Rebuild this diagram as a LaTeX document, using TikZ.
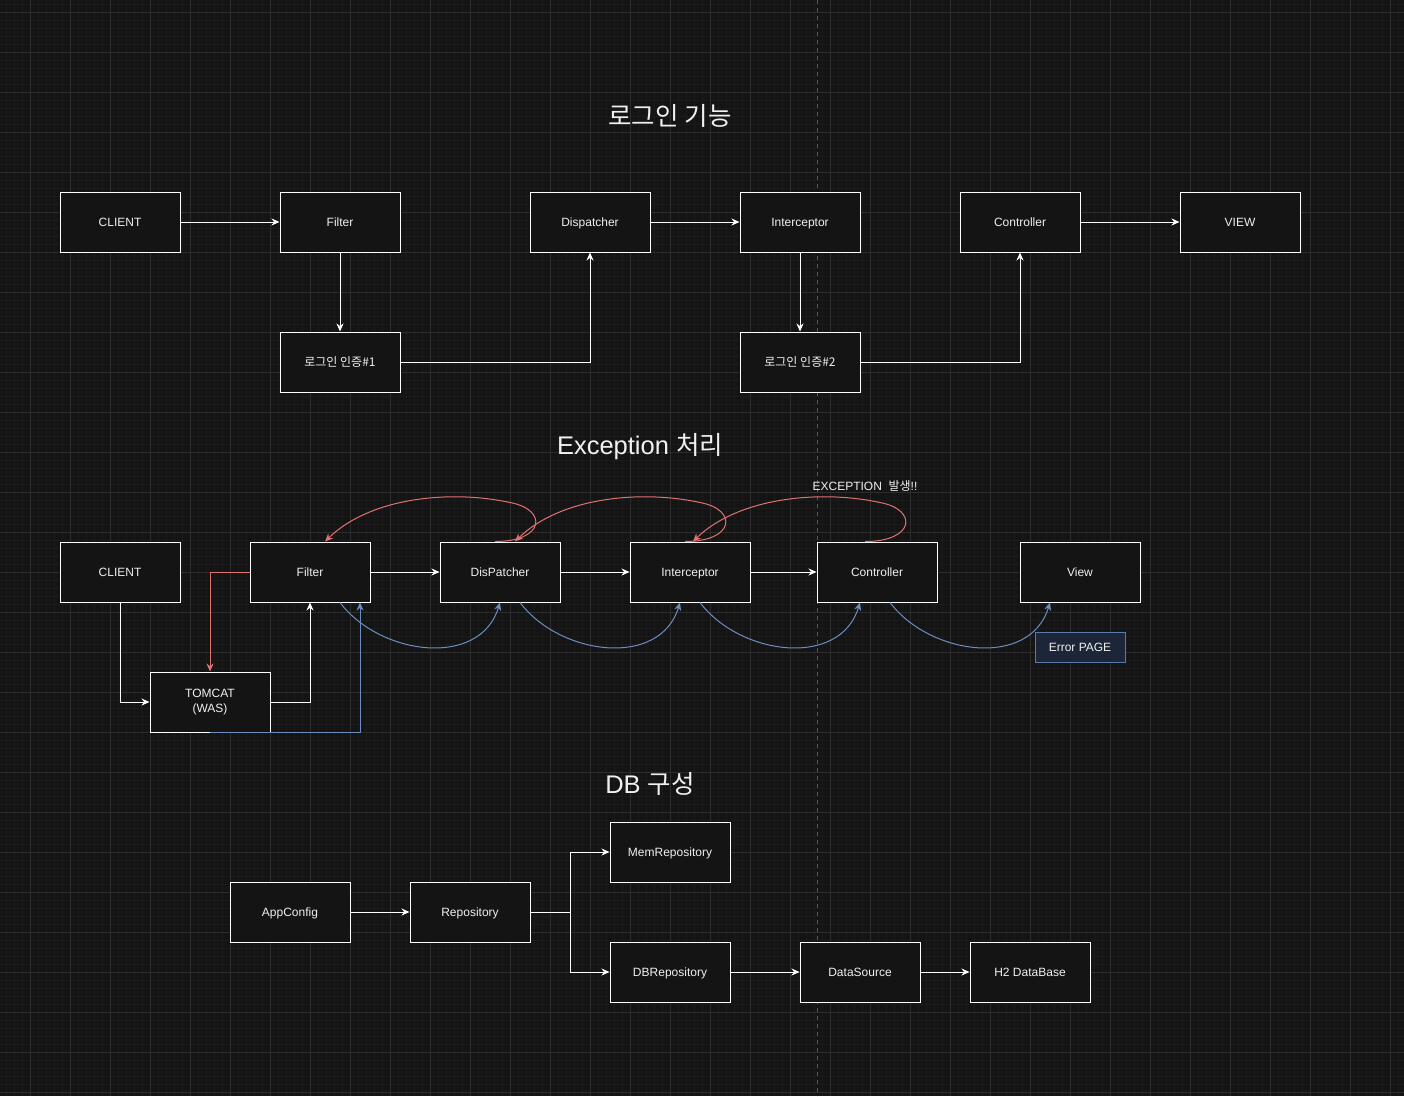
\documentclass[tikz,border=0pt]{standalone}
\usepackage{fontspec}
\setmainfont{Liberation Sans}
\newfontfamily\kr{Noto Sans CJK KR}
\usetikzlibrary{arrows.meta,calc}
\definecolor{bgc}{HTML}{141414}
\definecolor{minorc}{HTML}{1B1B1B}
\definecolor{majorc}{HTML}{2C2C2C}
\definecolor{guidec}{HTML}{5A5A5A}
\definecolor{txtc}{HTML}{F0F0F0}
\definecolor{redc}{HTML}{E07370}
\definecolor{bluec}{HTML}{6C8EBF}
\definecolor{errfill}{HTML}{1C2638}
\definecolor{errline}{HTML}{5A7AA8}
\begin{document}
\begin{tikzpicture}[x=1pt,y=-1pt,
  boxbase/.style={draw=white,line width=1pt,fill=bgc,minimum width=120pt,minimum height=60pt,inner sep=2pt,text=txtc,font=\fontsize{12}{15}\selectfont,align=center},
  box/.style={boxbase,text height=11pt,text depth=2.6pt},
  errbox/.style={draw=errline,line width=1pt,fill=errfill,minimum width=90pt,minimum height=30pt,inner sep=2pt,text=txtc,font=\fontsize{12}{15}\selectfont,text height=11pt,text depth=2.6pt},
  title/.style={text=txtc,font=\fontsize{25.5}{30}\selectfont,inner sep=0pt},
  lbl/.style={text=txtc,font=\fontsize{12}{15}\selectfont,inner sep=0pt},
  wa/.style={draw=white,line width=1pt,-{Stealth[length=8pt,width=7pt]}},
  ra/.style={draw=redc,line width=1pt,-{Stealth[length=8pt,width=7pt]}},
  ba/.style={draw=bluec,line width=1pt,-{Stealth[length=8pt,width=7pt]}},
  minorgrid/.style={draw=minorc,line width=0.6pt},
  majorgrid/.style={draw=majorc,line width=0.8pt}]
% background and grid
\fill[bgc] (0,0) rectangle (1404,1096);
\useasboundingbox (0,0) rectangle (1404,1096);
\foreach \x in {6,14,...,1398} \draw[minorgrid] (\x,0) -- (\x,1096);
\foreach \y in {4,12,...,1092} \draw[minorgrid] (0,\y) -- (1404,\y);
\foreach \x in {30,70,...,1390} \draw[majorgrid] (\x,0) -- (\x,1096);
\foreach \y in {12,52,...,1092} \draw[majorgrid] (0,\y) -- (1404,\y);
\draw[guidec,line width=0.8pt,dash pattern=on 4pt off 4pt] (817,0) -- (817,1096);

% ===== Section 1 =====
\node[title] (t1) at (670,116) {\kr 로그인 기능};
\node[box] (c1) at (120,222) {CLIENT};
\node[box] (f1) at (340,222) {Filter};
\node[box] (d1) at (590,222) {Dispatcher};
\node[box] (i1) at (800,222) {Interceptor};
\node[box] (ct1) at (1020,222) {Controller};
\node[box] (v1) at (1240,222) {VIEW};
\node[box] (l1) at (340,362) {\kr 로그인 인증\#1};
\node[box] (l2) at (800,362) {\kr 로그인 인증\#2};
\draw[wa] (c1) -- (f1);
\draw[wa] (f1) -- (l1);
\draw[wa] (l1.east) -| (d1.south);
\draw[wa] (d1) -- (i1);
\draw[wa] (i1) -- (l2);
\draw[wa] (l2.east) -| (ct1.south);
\draw[wa] (ct1) -- (v1);

% ===== Section 2 =====
\node[title] (t2) at (640,447) {Exception {\kr 처리}};
\node[lbl] (exc) at (865,486) {EXCEPTION\ \ {\kr 발생}!!};
\node[box] (c2) at (120,572) {CLIENT};
\node[box] (f2) at (310,572) {Filter};
\node[box] (d2) at (500,572) {DisPatcher};
\node[box] (i2) at (690,572) {Interceptor};
\node[box] (ct2) at (877,572) {Controller};
\node[box] (v2) at (1080,572) {View};
\node[boxbase] (tc) at (210,702) {TOMCAT\\(WAS)};
\node[errbox] (err) at (1080,647) {Error PAGE};

\draw[wa] (c2.south) |- (tc.west);
\draw[wa] (tc.east) -| (f2.south);
\draw[ra] (f2.west) -| (tc.north);
\draw[ba] (tc.south) -| ([xshift=50pt]f2.south);
\draw[wa] (f2) -- (d2);
\draw[wa] (d2) -- (i2);
\draw[wa] (i2) -- (ct2);

% blue curves (below)
\draw[ba] ([xshift=30pt]f2.south) .. controls +(40,53) and +(-20,66) .. (d2.south);
\draw[ba] ([xshift=20pt]d2.south) .. controls +(40,53) and +(-20,66) .. ([xshift=-10pt]i2.south);
\draw[ba] ([xshift=10pt]i2.south) .. controls +(40,53) and +(-20,66) .. ([xshift=-17pt]ct2.south);
\draw[ba] ([xshift=13pt]ct2.south) .. controls +(40,53) and +(-20,66) .. ([xshift=-30pt]v2.south);

% red curves (above)
\draw[ra] ([xshift=-5pt]d2.north) .. controls +(50,0) and +(38,7) .. ++(15,-39)
   .. controls +(-60,-13) and +(45,-44) .. ([xshift=15pt]f2.north);
\draw[ra] ([xshift=-5pt]i2.north) .. controls +(50,0) and +(38,7) .. ++(15,-39)
   .. controls +(-60,-13) and +(45,-44) .. ([xshift=15pt]d2.north);
\draw[ra] ([xshift=-12pt]ct2.north) .. controls +(50,0) and +(38,7) .. ++(15,-39)
   .. controls +(-60,-13) and +(45,-44) .. ([xshift=3pt]i2.north);

% ===== Section 3 =====
\node[title] (t3) at (650,784) {DB {\kr 구성}};
\node[box] (ac) at (290,912) {AppConfig};
\node[box] (rp) at (470,912) {Repository};
\node[box] (mr) at (670,852) {MemRepository};
\node[box] (dr) at (670,972) {DBRepository};
\node[box] (ds) at (860,972) {DataSource};
\node[box] (h2) at (1030,972) {H2 DataBase};
\coordinate (br) at (570,912);
\draw[wa] (ac) -- (rp);
\draw[draw=white,line width=1pt] (rp.east) -- (br);
\draw[wa] (br) |- (mr.west);
\draw[wa] (br) |- (dr.west);
\draw[wa] (dr) -- (ds);
\draw[wa] (ds) -- (h2);
\end{tikzpicture}
\end{document}
